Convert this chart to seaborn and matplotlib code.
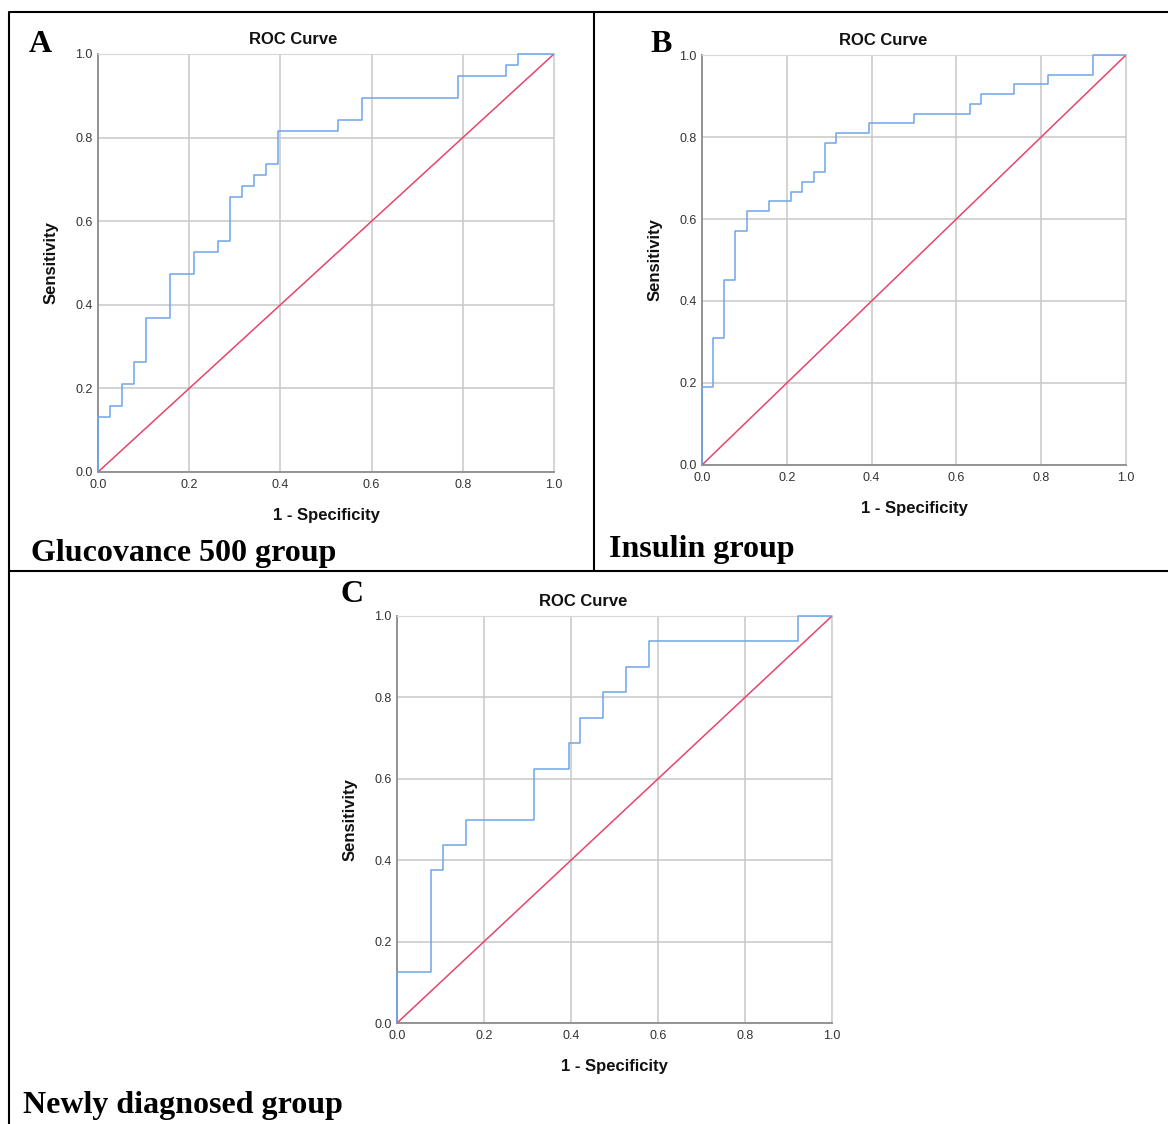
import numpy as np
import pandas as pd
import seaborn as sns
import matplotlib.pyplot as plt
from matplotlib.lines import Line2D

sns.set_style("white")
plt.rcParams['font.family'] = ['Liberation Sans', 'DejaVu Sans']
plt.rcParams['text.color'] = 'black'

# ROC points (1 - specificity, sensitivity)
glu_fpr = [0, 0, 0.026, 0.053, 0.079, 0.105, 0.158, 0.211, 0.263, 0.289, 0.316, 0.342,
           0.368, 0.395, 0.526, 0.579, 0.789, 0.895, 0.921, 1.0]
glu_tpr = [0, 0.132, 0.158, 0.211, 0.263, 0.368, 0.474, 0.526, 0.553, 0.658, 0.684, 0.711,
           0.737, 0.816, 0.842, 0.895, 0.947, 0.974, 1.0, 1.0]

ins_fpr = [0, 0, 0.026, 0.053, 0.079, 0.105, 0.158, 0.211, 0.237, 0.263, 0.289, 0.316,
           0.395, 0.500, 0.632, 0.658, 0.737, 0.816, 0.921, 1.0]
ins_tpr = [0, 0.190, 0.310, 0.452, 0.571, 0.619, 0.643, 0.667, 0.690, 0.714, 0.786, 0.810,
           0.833, 0.857, 0.881, 0.905, 0.929, 0.952, 1.0, 1.0]

new_fpr = [0, 0, 0.079, 0.105, 0.158, 0.316, 0.395, 0.421, 0.474, 0.526, 0.579, 0.921, 1.0]
new_tpr = [0, 0.125, 0.375, 0.438, 0.500, 0.625, 0.688, 0.750, 0.813, 0.875, 0.938, 1.0, 1.0]

ref_line = [0.0, 1.0]
ticks = [0.0, 0.2, 0.4, 0.6, 0.8, 1.0]

W, H = 1168, 1124
fig = plt.figure(figsize=(W / 100, H / 100), dpi=100)


def box(l, r, t, b):
    return [l / W, 1 - b / H, (r - l) / W, (b - t) / H]


def roc_panel(rect, fpr, tpr):
    ax = fig.add_axes(rect)
    df = pd.DataFrame({"fpr": fpr, "tpr": tpr})
    sns.lineplot(data=df, x="fpr", y="tpr", ax=ax, estimator=None, sort=False,
                 drawstyle="steps-post", color="#6fa6ea", linewidth=1.1, clip_on=False,
                 zorder=5)
    sns.lineplot(x=ref_line, y=ref_line, ax=ax, color="#e6456c", linewidth=1.1, zorder=4)
    ax.set_xlim(0, 1)
    ax.set_ylim(0, 1)
    ax.set_xticks(ticks)
    ax.set_yticks(ticks)
    ax.set_xticklabels([f"{t:.1f}" for t in ticks])
    ax.set_yticklabels([f"{t:.1f}" for t in ticks])
    ax.tick_params(length=0, labelsize=9, colors="#333333")
    ax.tick_params(axis="y", pad=4)
    ax.tick_params(axis="x", pad=5)
    ax.grid(True, color="#c8c8c8", linewidth=1.1)
    for s in ["top", "right"]:
        ax.spines[s].set_color("#d8d8d8")
    for s in ["left", "bottom"]:
        ax.spines[s].set_color("#8c8c8c")
        ax.spines[s].set_linewidth(1.3)
    ax.set_xlabel("1 - Specificity", fontsize=12, fontweight="bold", labelpad=12,
                  color="#111111")
    ax.set_ylabel("Sensitivity", fontsize=12, fontweight="bold", labelpad=12,
                  color="#111111")
    ax.set_title("ROC Curve", fontsize=12, fontweight="bold", pad=7, color="#111111",
                 x=0.428)
    ax.set_axisbelow(True)
    return ax


roc_panel(box(98, 554, 54, 472), glu_fpr, glu_tpr)
roc_panel(box(702, 1126, 55, 465), ins_fpr, ins_tpr)
roc_panel(box(397, 832, 616, 1023), new_fpr, new_tpr)

serif = ['Liberation Serif', 'DejaVu Serif']
for letter, x, y in [("A", 40, 44), ("B", 661, 44), ("C", 352, 595)]:
    fig.text(x / W, 1 - y / H, letter, family=serif, fontweight="bold", fontsize=23,
             ha="center", va="center")
for name, x, y in [("Glucovance 500 group", 31, 553), ("Insulin group", 609, 549),
                   ("Newly diagnosed group", 23, 1105)]:
    fig.text(x / W, 1 - y / H, name, family=serif, fontweight="bold", fontsize=23,
             ha="left", va="center")

# table borders
for xs, ys in [([10, W], [12, 12]), ([9, 9], [12, H]), ([594, 594], [12, 571]),
               ([9, W], [571, 571])]:
    fig.add_artist(Line2D([x / W for x in xs], [1 - y / H for y in ys],
                          color="black", linewidth=1.5))

fig.savefig("out.png", dpi=100)
